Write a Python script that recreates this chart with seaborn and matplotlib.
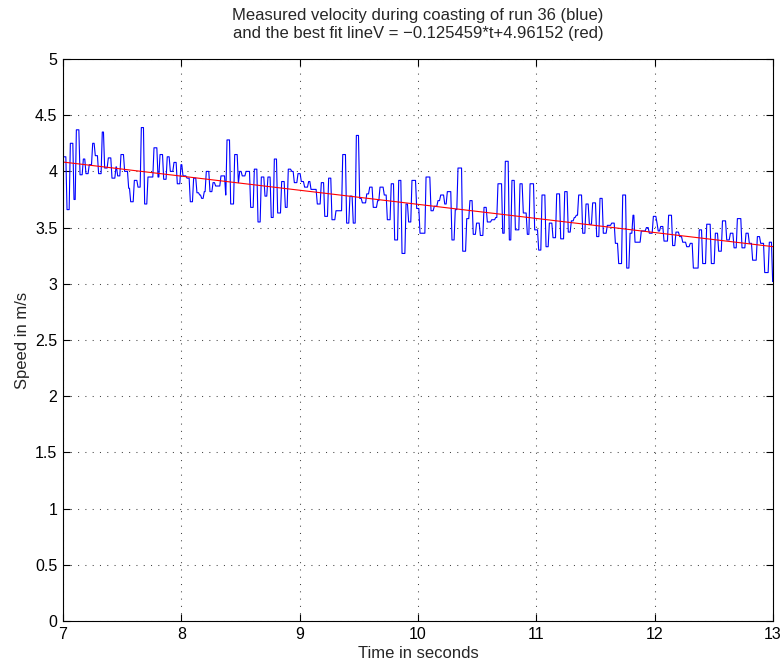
import matplotlib
matplotlib.use("Agg")
import matplotlib.pyplot as plt
import matplotlib.ticker as mticker
import seaborn as sns
import pandas as pd

# Measured coasting speed of run 36: each value holds from its time stamp
time_s = [
    7.000, 7.034, 7.062, 7.093, 7.113, 7.144, 7.172, 7.194, 7.222, 7.251,
    7.273, 7.301, 7.332, 7.352, 7.383, 7.414, 7.448, 7.462,
    7.490, 7.521, 7.555, 7.572, 7.603, 7.634, 7.662, 7.690, 7.718, 7.769,
    7.803, 7.820, 7.851, 7.881, 7.907, 7.938, 7.966,
    7.997, 8.014, 8.048, 8.076, 8.104, 8.132, 8.155, 8.172, 8.194, 8.211,
    8.242, 8.268, 8.290, 8.335, 8.375, 8.386, 8.417, 8.451, 8.482,
    8.493, 8.515, 8.547, 8.586, 8.617, 8.648, 8.676, 8.707, 8.732, 8.760,
    8.786, 8.814, 8.848, 8.879, 8.904, 8.933, 8.955, 8.986,
    9.014, 9.042, 9.076, 9.096, 9.149, 9.183, 9.212, 9.245, 9.273, 9.307,
    9.364, 9.397, 9.425, 9.453, 9.479,
    9.507, 9.530, 9.567, 9.592, 9.622, 9.659, 9.679, 9.715, 9.741, 9.774,
    9.803, 9.837, 9.865, 9.899, 9.921, 9.949, 9.989,
    10.017, 10.068, 10.110, 10.138, 10.169, 10.192, 10.226, 10.248, 10.287,
    10.315, 10.338, 10.378, 10.412, 10.439, 10.467, 10.495,
    10.527, 10.558, 10.586, 10.623, 10.657, 10.676, 10.716, 10.738, 10.772,
    10.794, 10.823, 10.862, 10.890, 10.924, 10.947, 10.986, 11.020,
    11.048, 11.082, 11.110, 11.141, 11.172, 11.206, 11.240, 11.270, 11.296,
    11.321, 11.338, 11.358, 11.392, 11.420, 11.448, 11.476, 11.510,
    11.538, 11.566, 11.600, 11.637, 11.668, 11.696, 11.730, 11.764, 11.792,
    11.817, 11.834, 11.887, 11.930, 11.955, 11.989, 12.020,
    12.030, 12.051, 12.079, 12.118, 12.152, 12.180, 12.211, 12.237, 12.271,
    12.301, 12.327, 12.377, 12.406, 12.440, 12.479, 12.513, 12.541,
    12.573, 12.609, 12.640, 12.671, 12.699, 12.738, 12.772, 12.800, 12.828,
    12.868, 12.896, 12.930, 12.969, 12.997, 13.000,
]
speed_ms = [
    4.13, 3.66, 4.25, 3.75, 4.37, 3.97, 4.11, 3.98, 4.06, 4.25,
    4.14, 3.98, 4.35, 4.03, 4.12, 3.94, 4.04, 3.96,
    4.15, 4.00, 3.85, 3.73, 3.92, 3.86, 4.39, 3.71, 3.95, 4.21,
    3.95, 4.15, 3.93, 4.13, 4.00, 4.08, 3.89,
    4.06, 3.96, 3.94, 3.73, 3.94, 3.81, 3.79, 3.76, 3.82, 4.00,
    3.82, 3.90, 3.87, 3.96, 3.79, 4.28, 3.71, 4.15, 3.90,
    4.00, 3.96, 4.00, 3.68, 4.02, 3.55, 3.95, 3.78, 3.95, 3.59,
    4.11, 3.63, 3.91, 3.68, 4.02, 4.00, 3.90, 3.98,
    3.91, 3.86, 3.91, 3.84, 3.71, 3.90, 3.60, 3.94, 3.57, 3.65,
    4.15, 3.54, 3.78, 3.54, 4.32,
    3.76, 3.72, 3.80, 3.86, 3.68, 3.74, 3.86, 3.79, 3.57, 3.89,
    3.39, 3.92, 3.27, 3.71, 3.55, 3.92, 3.67,
    3.45, 3.95, 3.65, 3.69, 3.74, 3.79, 3.71, 3.82, 3.39,
    3.66, 4.03, 3.29, 3.58, 3.74, 3.44, 3.54,
    3.43, 3.68, 3.55, 3.57, 3.59, 3.89, 3.45, 4.09, 3.39,
    3.92, 3.48, 3.89, 3.63, 3.44, 3.89, 3.48, 3.30,
    3.79, 3.33, 3.54, 3.41, 3.80, 3.40, 3.82, 3.46, 3.56,
    3.59, 3.61, 3.79, 3.45, 3.71, 3.53, 3.72, 3.42,
    3.76, 3.45, 3.52, 3.54, 3.36, 3.18, 3.79, 3.14, 3.45,
    3.61, 3.37, 3.47, 3.50, 3.45, 3.60, 3.54,
    3.47, 3.51, 3.38, 3.61, 3.34, 3.46, 3.42, 3.37, 3.33,
    3.36, 3.14, 3.48, 3.18, 3.53, 3.18, 3.45, 3.29,
    3.56, 3.39, 3.45, 3.32, 3.58, 3.32, 3.45, 3.36, 3.21,
    3.42, 3.36, 3.10, 3.37, 3.02, 3.02,
]

# Least-squares fit coefficients V = slope*t + intercept
fit_slope = -0.125459
fit_intercept = 4.96152
fit_range = [7.0, 13.0]

x_ticks = [7, 8, 9, 10, 11, 12, 13]
y_ticks = [0, 0.5, 1, 1.5, 2, 2.5, 3, 3.5, 4, 4.5, 5]

# Sample period of the logger; a value is held until the next sample
# arrives, and the change between two values takes one period.
sample_dt = 0.010

sns.set_style("white")
plt.rcParams["font.family"] = ["Liberation Sans", "DejaVu Sans"]
plt.rcParams["font.size"] = 11.5

trace_t, trace_v = [], []
for i, (t, v) in enumerate(zip(time_s, speed_ms)):
    trace_t.append(t)
    trace_v.append(v)
    if i + 1 < len(time_s):
        hold_end = time_s[i + 1] - sample_dt
        if hold_end > t:
            trace_t.append(hold_end)
            trace_v.append(v)
measured = pd.DataFrame({"t": trace_t, "v": trace_v})
fit = pd.DataFrame({"t": fit_range,
                    "v": [fit_slope * t + fit_intercept for t in fit_range]})

fig = plt.figure(figsize=(7.82, 6.64), dpi=100)
ax = fig.add_axes([63 / 782, 43 / 664, 710 / 782, 562 / 664])

sns.lineplot(data=measured, x="t", y="v", ax=ax, color="#0000ff",
             linewidth=0.8, estimator=None, sort=False)
sns.lineplot(data=fit, x="t", y="v", ax=ax, color="#ff0000",
             linewidth=0.8, estimator=None)

ax.set_xlim(7, 13)
ax.set_ylim(0, 5)
ax.set_xticks(x_ticks)
ax.set_yticks(y_ticks)
ax.xaxis.set_major_formatter(mticker.FormatStrFormatter("%g"))
ax.yaxis.set_major_formatter(mticker.FormatStrFormatter("%g"))

ax.grid(True, color="#444444", linestyle=(0, (1.0, 6.0)), linewidth=0.75)
for side in ax.spines.values():
    side.set_visible(True)
    side.set_color("black")
    side.set_linewidth(0.8)
ax.tick_params(direction="in", length=5, width=0.8, top=True, right=True,
               bottom=True, left=True, colors="black", labelsize=11.5, pad=4)

ax.set_xlabel("Time in seconds", fontsize=12, labelpad=3)
ax.set_ylabel("Speed in m/s", fontsize=12, labelpad=4)
ax.set_title("Measured velocity during coasting of run 36 (blue)\n"
             "and the best fit lineV = \u22120.125459*t+4.96152 (red)",
             fontsize=12, pad=15, linespacing=1.3)

fig.savefig("out.png", dpi=100, facecolor="white")
